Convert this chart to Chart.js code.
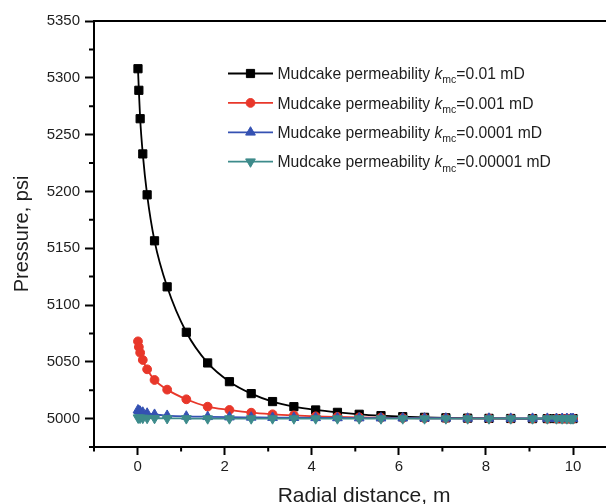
<!DOCTYPE html>
<html>
<head>
<meta charset="utf-8">
<script src="https://cdn.jsdelivr.net/npm/chart.js@4/dist/chart.umd.min.js"></script>
<style>
  html, body { margin: 0; padding: 0; background: #fff; overflow: hidden; }
  canvas { display: block; }
</style>
</head>
<body>
<canvas id="pressure_chart" width="650" height="512"></canvas>
<script>
// DATA
const radialDistance = [0.01, 0.03, 0.06, 0.12, 0.22, 0.39, 0.68, 1.12, 1.61, 2.11, 2.61, 3.1, 3.59, 4.09, 4.59,
    5.09, 5.59, 6.09, 6.59, 7.08, 7.58, 8.07, 8.57, 9.07, 9.41, 9.62, 9.75, 9.86, 9.95, 10.0];

const pressure_k001 = [5308, 5289, 5264, 5233, 5197, 5156.5, 5116, 5076, 5049, 5032.5, 5022, 5015, 5010.5, 5007.6, 5005.5,
    5003.8, 5002.6, 5001.7, 5001.1, 5000.7, 5000.4, 5000.2, 5000.1, 5000, 5000, 5000, 5000, 5000, 5000, 5000];
const pressure_k0001 = [5068, 5063, 5058, 5051.6, 5043.4, 5034, 5025.5, 5017, 5010.5, 5007.6, 5005.2, 5003.8, 5002.8, 5002, 5001.5,
    5001.1, 5000.8, 5000.5, 5000.3, 5000.2, 5000.1, 5000.1, 5000, 5000, 5000, 5000, 5000, 5000, 5000, 5000];
const pressure_k00001 = [5007.5, 5007, 5006.3, 5005.5, 5004.6, 5003.6, 5002.7, 5002, 5001.6, 5001.3, 5001.1, 5000.9, 5000.8, 5000.7, 5000.6,
    5000.5, 5000.4, 5000.4, 5000.3, 5000.3, 5000.2, 5000.2, 5000.1, 5000.1, 5000.1, 5000, 5000, 5000, 5000, 5000];
const pressure_k000001 = [5000.8, 5000.7, 5000.6, 5000.5, 5000.4, 5000.3, 5000.2, 5000.1, 5000, 5000, 5000, 5000, 5000, 5000, 5000,
    5000, 5000, 5000, 5000, 5000, 5000, 5000, 5000, 5000, 5000, 5000, 5000, 5000, 5000, 5000];

const kmcValues = ['0.01', '0.001', '0.0001', '0.00001'];

const xTicks = [0, 2, 4, 6, 8, 10];
const xMinorTicks = [-1, 1, 3, 5, 7, 9, 11];
const yTicks = [5000, 5050, 5100, 5150, 5200, 5250, 5300, 5350];
const yMinorTicks = [4975, 5025, 5075, 5125, 5175, 5225, 5275, 5325];

const FONT = "'Liberation Sans', Arial, Helvetica, sans-serif";
const TEXT = '#1e1e1e';

function toPoints(ys){
    return ys.map((y, i) => ({ x: radialDistance[i], y: y }));
}

function series(values, color, style, radius, rotation, order){
    return {
        label: 'Mudcake permeability kmc=' + kmcValues[order] + ' mD',
        data: toPoints(values),
        borderColor: color,
        backgroundColor: color,
        borderWidth: 1.8,
        pointStyle: style,
        pointRadius: radius,
        pointRotation: rotation,
        pointBackgroundColor: color,
        pointBorderColor: color,
        pointBorderWidth: 1,
        cubicInterpolationMode: 'monotone',
        fill: false,
        order: 4 - order
    };
}

// minor ticks, top frame line and the legend with subscript
const extrasPlugin = {
    id: 'extras',
    afterDraw(chart){
        const ctx = chart.ctx;
        const area = chart.chartArea;
        const xs = chart.scales.x, ys = chart.scales.y;
        ctx.save();
        ctx.strokeStyle = '#000';
        ctx.lineWidth = 2;
        ctx.beginPath();
        ctx.moveTo(area.left - 1, area.top);
        ctx.lineTo(area.right, area.top);
        xMinorTicks.forEach(v => {
            const px = xs.getPixelForValue(v);
            ctx.moveTo(px, area.bottom);
            ctx.lineTo(px, area.bottom + 4.5);
        });
        yMinorTicks.forEach(v => {
            const py = ys.getPixelForValue(v);
            ctx.moveTo(area.left, py);
            ctx.lineTo(area.left - 5, py);
        });
        ctx.stroke();

        chart.data.datasets.forEach((ds, i) => {
            const y = 73.5 + i * 29.4;
            ctx.strokeStyle = ds.borderColor;
            ctx.lineWidth = ds.borderWidth;
            ctx.beginPath();
            ctx.moveTo(228, y);
            ctx.lineTo(273, y);
            ctx.stroke();
            ctx.fillStyle = ds.pointBackgroundColor;
            ctx.strokeStyle = ds.pointBorderColor;
            ctx.lineWidth = 1;
            Chart.helpers.drawPoint(ctx, {
                pointStyle: ds.pointStyle, radius: ds.pointRadius,
                rotation: ds.pointRotation, borderWidth: 1
            }, 250.5, y);

            ctx.fillStyle = TEXT;
            ctx.textBaseline = 'alphabetic';
            ctx.textAlign = 'left';
            const base = y + 5.6;
            let x = 277.5;
            ctx.font = '15.7px ' + FONT;
            ctx.fillText('Mudcake permeability ', x, base);
            x += ctx.measureText('Mudcake permeability ').width;
            ctx.font = 'italic 15.7px ' + FONT;
            ctx.fillText('k', x, base);
            x += ctx.measureText('k').width;
            ctx.font = '10.5px ' + FONT;
            ctx.fillText('mc', x, base + 4.3);
            x += ctx.measureText('mc').width;
            ctx.font = '15.7px ' + FONT;
            ctx.fillText('=' + kmcValues[i] + ' mD', x, base);
        });
        ctx.restore();
    }
};

const ctx = document.getElementById('pressure_chart').getContext('2d');

const my_chart = new Chart(ctx, {
    type: 'line',
    data: {
        datasets: [
            series(pressure_k001, '#000000', 'rect', 5.8, 0, 0),
            series(pressure_k0001, '#e8372a', 'circle', 4.4, 0, 1),
            series(pressure_k00001, '#3451b2', 'triangle', 5.6, 0, 2),
            series(pressure_k000001, '#3d8b8b', 'triangle', 5.6, 180, 3)
        ]
    },
    options: {
        responsive: false,
        devicePixelRatio: 1,
        animation: false,
        layout: { padding: { top: 21, right: 16, left: 0, bottom: 0 } },
        plugins: {
            legend: { display: false },
            tooltip: { enabled: false }
        },
        scales: {
            x: {
                type: 'linear',
                min: -1,
                max: 11.4,
                afterBuildTicks: s => { s.ticks = xTicks.map(v => ({ value: v })); },
                afterFit: s => { s.height = 65; },
                grid: { display: true, drawOnChartArea: false, drawTicks: true, tickLength: 8, tickWidth: 2, tickColor: '#000' },
                border: { display: true, color: '#000', width: 2 },
                ticks: { color: TEXT, font: { size: 15, family: FONT }, padding: 3, maxRotation: 0, autoSkip: false,
                    callback: v => String(v) },
                title: { display: true, text: 'Radial distance, m', color: TEXT, font: { size: 21, family: FONT }, padding: { top: 0, bottom: 3 } }
            },
            y: {
                min: 4975,
                max: 5350,
                afterBuildTicks: s => { s.ticks = yTicks.map(v => ({ value: v })); },
                afterFit: s => { s.width = 94; },
                grid: { display: true, drawOnChartArea: false, drawTicks: true, tickLength: 9, tickWidth: 2, tickColor: '#000' },
                border: { display: true, color: '#000', width: 2 },
                ticks: { color: TEXT, font: { size: 15, family: FONT }, padding: 5, autoSkip: false,
                    callback: v => String(v) },
                title: { display: true, text: 'Pressure, psi', color: TEXT, font: { size: 20, family: FONT }, padding: { top: 10, bottom: 0 } }
            }
        }
    },
    plugins: [extrasPlugin]
});
</script>
</body>
</html>
